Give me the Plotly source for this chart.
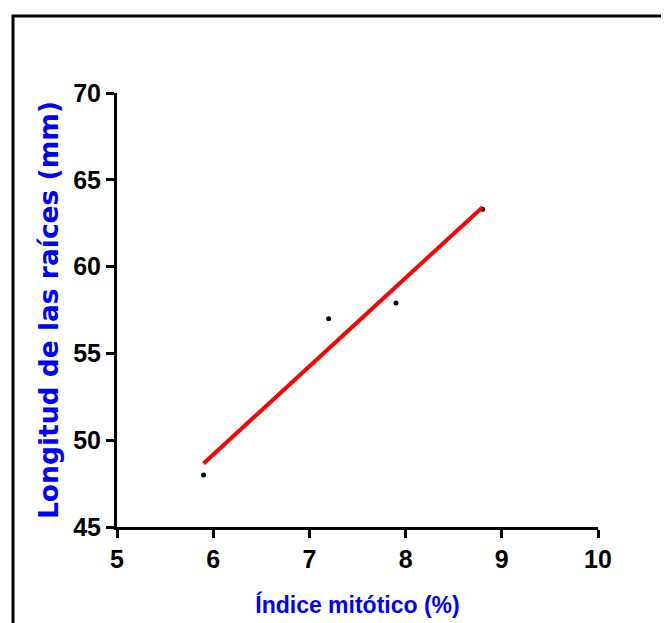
import numpy as np
import plotly.graph_objects as go

# Data
indice_mitotico = [5.9, 7.2, 7.9, 8.8]
longitud_raices = [48.0, 57.0, 57.9, 63.3]

x_ticks = [5, 6, 7, 8, 9, 10]
y_ticks = [45, 50, 55, 60, 65, 70]

x_title = "Índice mitótico (%)"
y_title = "Longitud de las raíces (mm)"

# Linear regression line derived from the data
slope, intercept = np.polyfit(indice_mitotico, longitud_raices, 1)
fit_x = [min(indice_mitotico), max(indice_mitotico)]
fit_y = [slope * v + intercept for v in fit_x]

W, H = 669, 623
OFF = 8  # page body margin compensation
pw, ph = 481, 434
L, T = 117 - OFF, 93 - OFF
R, B = W - L - pw, H - T - ph

narrow = "Liberation Sans Narrow, Arial Narrow, Liberation Sans, Arial, sans-serif"

fig = go.Figure()
fig.add_trace(go.Scatter(
    x=indice_mitotico, y=longitud_raices, mode="markers",
    marker=dict(color="black", size=5), showlegend=False, cliponaxis=False))
fig.add_trace(go.Scatter(
    x=fit_x, y=fit_y, mode="lines",
    line=dict(color="#ff0000", width=4), showlegend=False))

axis_common = dict(
    showgrid=False, zeroline=False, showline=True, linecolor="black",
    linewidth=3, ticks="outside", ticklen=8, tickwidth=3, tickcolor="black",
    tickfont=dict(family=narrow, size=25, color="black", weight=700),
)

fig.update_xaxes(
    range=[5, 10], tickvals=x_ticks, ticktext=[str(v) for v in x_ticks],
    title=dict(text=x_title, standoff=25,
               font=dict(family=narrow, size=23, color="#0000ff", weight=700)),
    **axis_common)
fig.update_yaxes(
    range=[45, 70], tickvals=y_ticks, ticktext=[str(v) for v in y_ticks],
    title=dict(text=y_title, standoff=7,
               font=dict(family="DejaVu Sans, Arial, sans-serif", size=26.5,
                         color="#0000ff", weight=700)),
    **axis_common)

# Outer frame (left and top edges visible, rest cropped)
fx0 = (13 - 117) / pw
fy1 = (527 - 16) / ph
fig.add_shape(type="rect", xref="paper", yref="paper",
              x0=fx0, x1=1.4, y0=-0.4, y1=fy1,
              line=dict(color="black", width=3), layer="below")

fig.update_layout(
    width=W, height=H,
    margin=dict(l=L, r=R, t=T, b=B, autoexpand=False),
    paper_bgcolor="white", plot_bgcolor="white",
)

fig.write_html("out.html")
